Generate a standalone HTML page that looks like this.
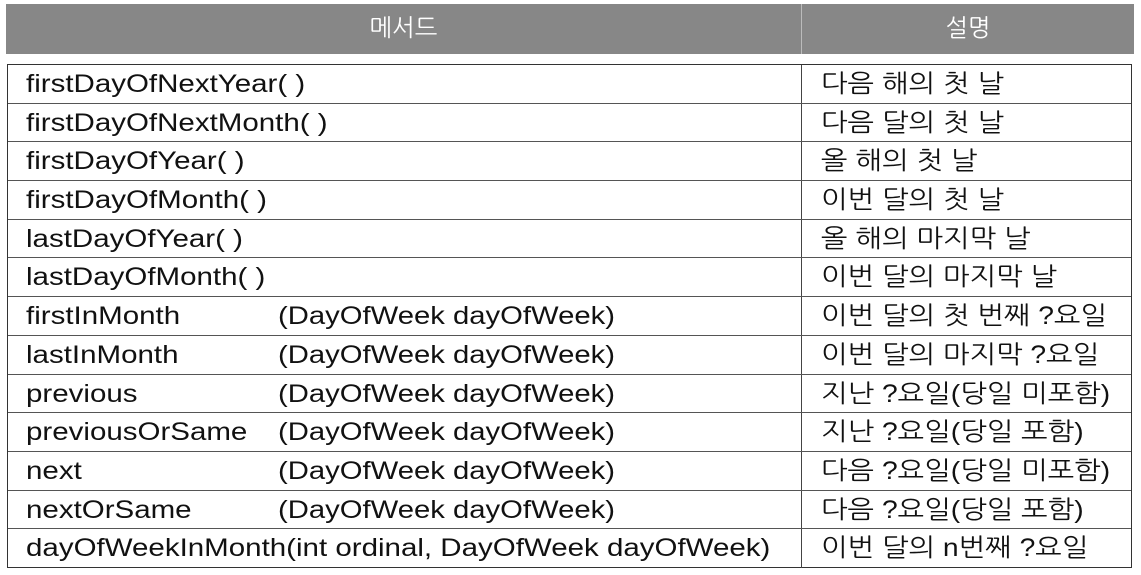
<!DOCTYPE html>
<html><head><meta charset="utf-8"><style>
body{margin:0;width:1141px;height:575px;background:#fff;position:relative;overflow:hidden;font-family:"Liberation Sans","NanumGothic","Noto Sans CJK KR",sans-serif;}
#hdr{position:absolute;left:6px;top:4px;width:1128px;height:50px;background:#878787;color:#fff;font-size:24px;}
#hdr div{position:absolute;top:0;height:50px;line-height:50px;text-align:center;}
#tbl{position:absolute;left:7px;top:64px;width:1125px;height:504px;box-sizing:border-box;border:1.5px solid #333;}
.row{position:relative;box-sizing:border-box;height:38.7px;border-bottom:1px solid #555;font-size:25px;color:#111;}
.row:last-child{border-bottom:none;}
.row span{position:absolute;top:0;line-height:38px;white-space:nowrap;transform-origin:0 50%;}
.a{left:18px;transform:scaleX(1.18)}.p{left:270px;transform:scaleX(1.17)}.d{left:813px;transform:scaleX(1.13)}
.sep{position:absolute;left:793px;top:0;width:1px;height:100%;background:#444;}
</style></head><body>
<div id="hdr">
<div style="left:0;width:795px">메서드</div>
<div style="left:795px;width:1px;background:#bbb;height:50px"></div>
<div style="left:796px;width:332px">설명</div>
</div>
<div id="tbl">
<div class="row"><span class="a">firstDayOfNextYear( )</span><div class="sep"></div><span class="d">다음 해의 첫 날</span></div>
<div class="row"><span class="a">firstDayOfNextMonth( )</span><div class="sep"></div><span class="d">다음 달의 첫 날</span></div>
<div class="row"><span class="a">firstDayOfYear( )</span><div class="sep"></div><span class="d">올 해의 첫 날</span></div>
<div class="row"><span class="a">firstDayOfMonth( )</span><div class="sep"></div><span class="d">이번 달의 첫 날</span></div>
<div class="row"><span class="a">lastDayOfYear( )</span><div class="sep"></div><span class="d">올 해의 마지막 날</span></div>
<div class="row"><span class="a">lastDayOfMonth( )</span><div class="sep"></div><span class="d">이번 달의 마지막 날</span></div>
<div class="row"><span class="a">firstInMonth</span><span class="p">(DayOfWeek dayOfWeek)</span><div class="sep"></div><span class="d">이번 달의 첫 번째 ?요일</span></div>
<div class="row"><span class="a">lastInMonth</span><span class="p">(DayOfWeek dayOfWeek)</span><div class="sep"></div><span class="d">이번 달의 마지막 ?요일</span></div>
<div class="row"><span class="a">previous</span><span class="p">(DayOfWeek dayOfWeek)</span><div class="sep"></div><span class="d">지난 ?요일(당일 미포함)</span></div>
<div class="row"><span class="a">previousOrSame</span><span class="p">(DayOfWeek dayOfWeek)</span><div class="sep"></div><span class="d">지난 ?요일(당일 포함)</span></div>
<div class="row"><span class="a">next</span><span class="p">(DayOfWeek dayOfWeek)</span><div class="sep"></div><span class="d">다음 ?요일(당일 미포함)</span></div>
<div class="row"><span class="a">nextOrSame</span><span class="p">(DayOfWeek dayOfWeek)</span><div class="sep"></div><span class="d">다음 ?요일(당일 포함)</span></div>
<div class="row"><span class="a">dayOfWeekInMonth(int ordinal, DayOfWeek dayOfWeek)</span><div class="sep"></div><span class="d">이번 달의 n번째 ?요일</span></div>
</div>
</body></html>
